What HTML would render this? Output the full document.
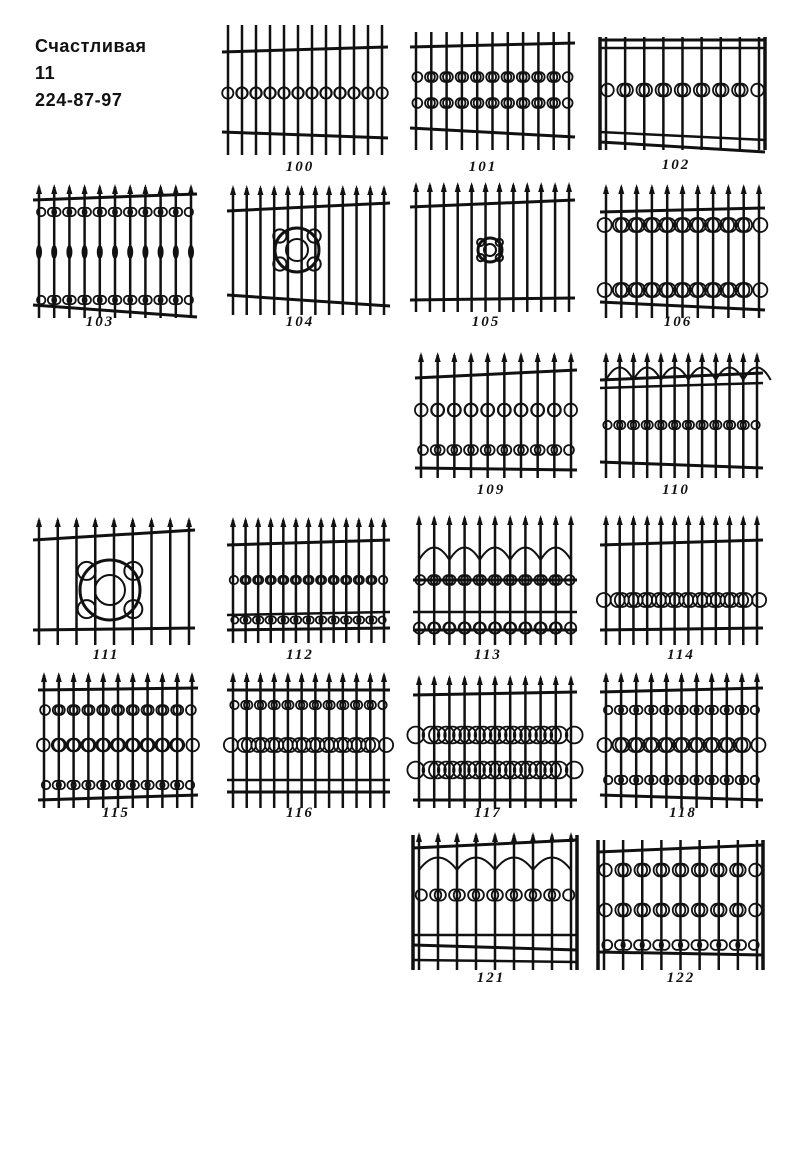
<!DOCTYPE html>
<html><head><meta charset="utf-8">
<style>
html,body{margin:0;padding:0;background:#fff;}
#w{position:relative;width:800px;height:1160px;overflow:hidden;}
.t{position:absolute;left:35px;font-family:"Liberation Sans",sans-serif;font-size:18px;font-weight:bold;letter-spacing:0.6px;color:#111;}
.n{position:absolute;font-family:"Liberation Serif",serif;font-style:italic;font-weight:bold;font-size:15px;letter-spacing:2px;color:#111;transform:translateX(-50%);}
svg{position:absolute;left:0;top:0;}
</style></head><body><div id="w">
<div class="t" style="top:36px">Счастливая</div>
<div class="t" style="top:63px">11</div>
<div class="t" style="top:90px">224-87-97</div>
<div class="n" style="left:300px;top:159px">100</div>
<div class="n" style="left:483px;top:159px">101</div>
<div class="n" style="left:676px;top:157px">102</div>
<div class="n" style="left:100px;top:314px">103</div>
<div class="n" style="left:300px;top:314px">104</div>
<div class="n" style="left:486px;top:314px">105</div>
<div class="n" style="left:678px;top:314px">106</div>
<div class="n" style="left:491px;top:482px">109</div>
<div class="n" style="left:676px;top:482px">110</div>
<div class="n" style="left:106px;top:647px">111</div>
<div class="n" style="left:300px;top:647px">112</div>
<div class="n" style="left:488px;top:647px">113</div>
<div class="n" style="left:681px;top:647px">114</div>
<div class="n" style="left:116px;top:805px">115</div>
<div class="n" style="left:300px;top:805px">116</div>
<div class="n" style="left:488px;top:805px">117</div>
<div class="n" style="left:683px;top:805px">118</div>
<div class="n" style="left:491px;top:970px">121</div>
<div class="n" style="left:681px;top:970px">122</div>
<svg id="s" width="800" height="1160" xmlns="http://www.w3.org/2000/svg"></svg>
</div>
<script>
var s=document.getElementById('s'),h='';
function L(a,b,c,d,w){h+='<line x1="'+a+'" y1="'+b+'" x2="'+c+'" y2="'+d+'" stroke="#111" stroke-width="'+(w||2.5)+'"/>';}
function C(x,y,r,w){h+='<circle cx="'+x+'" cy="'+y+'" r="'+r+'" fill="none" stroke="#111" stroke-width="'+(w||1.8)+'"/>';}
function tip(x,y){h+='<path d="M'+(x-3)+' '+(y+7)+'L'+x+' '+(y-3)+'L'+(x+3)+' '+(y+7)+'Z" fill="#111"/>';}
function P(x0,x1,t0,t1,b0,b1,bt,bb,n,o){
 o=o||{};
 L(x0,t0,x1,t1,3);L(x0,b0,x1,b1,3);
 if(o.r2)L(x0,o.r2[0],x1,o.r2[1],2.5);
 if(o.r3)L(x0,o.r3[0],x1,o.r3[1],2.5);
 if(o.frame){L(x0,bt,x0,bb,3.5);L(x1,bt,x1,bb,3.5);}
 var pad=o.pad||6,dx=(x1-x0-2*pad)/(n-1);
 for(var i=0;i<n;i++){var x=x0+pad+i*dx;L(x,bt,x,bb,2.5);if(o.tips)tip(x,bt);
   if(o.twist)h+='<ellipse cx="'+x+'" cy="'+o.twist+'" rx="3" ry="7" fill="#111"/>';}
 if(o.orn){for(var k=0;k<o.orn.length;k++){var oy=o.orn[k][0],rr=o.orn[k][1],st=o.orn[k][2]||1;
   for(var i=0;i<n-1;i+=st){var x=x0+pad+(i+0.5)*dx;C(x-rr*0.9,oy,rr*0.7);C(x+rr*0.9,oy,rr*0.7);}}}
 if(o.arch){for(var i=0;i<n-1;i+=2){var xa=x0+pad+i*dx,xb=xa+2*dx;h+='<path d="M'+xa+' '+o.arch+'Q'+(xa+dx)+' '+(o.arch-25)+' '+xb+' '+o.arch+'" fill="none" stroke="#111" stroke-width="2"/>';}}
 if(o.center){var c=o.center;C(c[0],c[1],c[2],3);C(c[0],c[1],c[2]*0.5,2);
   for(var a=0;a<4;a++){var an=a*Math.PI/2+Math.PI/4;C(c[0]+Math.cos(an)*c[2]*1.1,c[1]+Math.sin(an)*c[2]*0.9,c[2]*0.3,2);}}
}
P(222,388,52,47,132,138,25,155,12,{orn:[[93,8]]});
P(410,575,47,43,128,137,32,150,11,{orn:[[77,7],[103,7]]});
P(600,765,40,40,142,152,37,150,9,{frame:1,r2:[48,48],r3:[132,140],orn:[[90,9]]});
P(33,197,200,194,305,317,187,318,11,{tips:1,orn:[[212,6],[300,6]],twist:252});
P(227,390,211,203,295,306,188,315,12,{tips:1,center:[297,250,22]});
P(410,575,207,200,300,298,185,312,12,{tips:1,center:[490,250,12]});
P(600,765,212,208,302,310,187,318,11,{tips:1,orn:[[225,10],[290,10]]});
P(415,577,378,370,468,470,355,478,10,{tips:1,orn:[[410,9],[450,7]]});
P(600,763,380,373,462,468,355,478,12,{tips:1,r2:[388,383],arch:380,orn:[[425,6]]});
P(33,195,540,530,630,628,520,645,9,{tips:1,center:[110,590,30]});
P(227,390,545,540,630,628,520,643,13,{tips:1,r2:[615,612],orn:[[580,6],[620,5]]});
P(413,577,580,580,630,630,518,645,11,{tips:1,r2:[612,612],arch:560,orn:[[580,7],[628,8]]});
P(600,763,545,540,630,628,518,645,12,{tips:1,orn:[[600,10]]});
P(38,198,690,688,800,795,675,808,11,{tips:1,orn:[[710,7],[745,9],[785,6]]});
P(227,390,690,690,792,792,675,808,12,{tips:1,r2:[780,780],orn:[[705,6],[745,10]]});
P(413,577,695,692,800,800,678,808,11,{tips:1,orn:[[735,12],[770,12]]});
P(600,763,692,688,795,800,675,808,11,{tips:1,orn:[[710,6],[745,10],[780,6]]});
P(413,577,848,840,945,950,835,970,9,{frame:1,tips:1,r2:[960,962],r3:[935,935],arch:870,orn:[[895,8]]});
P(598,763,852,845,952,955,840,970,9,{frame:1,orn:[[870,9],[910,9],[945,7]]});
s.innerHTML=h;
</script>
</body></html>
